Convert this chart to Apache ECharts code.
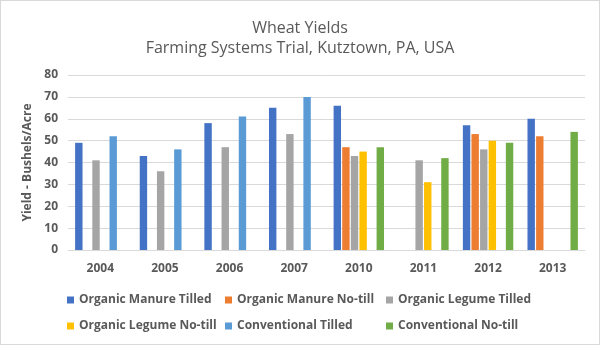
<!DOCTYPE html>
<html><head><meta charset="utf-8">
<script src="https://cdn.jsdelivr.net/npm/echarts@6/dist/echarts.min.js"></script>
<style>html,body{margin:0;padding:0;background:#fff}#c{width:598px;height:343px;border:1px solid #d9d9d9}</style>
</head><body><div id="c"></div>
<script>
const categories = ['2004','2005','2006','2007','2010','2011','2012','2013'];
const seriesNames = ['Organic Manure Tilled','Organic Manure No-till','Organic Legume Tilled','Organic Legume No-till','Conventional Tilled','Conventional No-till'];
const organicManureTilled = [49, 43, 58, 65, 66, null, 57, 60];
const organicManureNoTill = [null, null, null, null, 47, null, 53, 52];
const organicLegumeTilled = [41, 36, 47, 53, 43, 41, 46, null];
const organicLegumeNoTill = [null, null, null, null, 45, 31, 50, null];
const conventionalTilled = [52, 46, 61, 70, null, null, null, null];
const conventionalNoTill = [null, null, null, null, 47, 42, 49, 54];
const yTicks = [0, 10, 20, 30, 40, 50, 60, 70, 80];
const colors = ['#4472C4','#ED7D31','#A5A5A5','#FFC000','#5B9BD5','#70AD47'];
const allData = [organicManureTilled, organicManureNoTill, organicLegumeTilled, organicLegumeNoTill, conventionalTilled, conventionalNoTill];
const font = '"Open Sans", sans-serif';
const legendLeft = [66, 224, 385];
const legendTop = [293, 319];
const chart = echarts.init(document.getElementById('c'));
chart.setOption({
  animation: false,
  title: {
    text: 'Wheat Yields',
    subtext: 'Farming Systems Trial, Kutztown, PA, USA',
    left: 'center', top: 12, itemGap: 0,
    textStyle: { fontFamily: font, fontSize: 16, fontWeight: 'normal', color: '#595959', lineHeight: 20 },
    subtextStyle: { fontFamily: font, fontSize: 16, fontWeight: 'normal', color: '#595959', lineHeight: 21 }
  },
  legend: seriesNames.map((n, i) => ({
    data: [n], left: legendLeft[i % 3], top: legendTop[Math.floor(i / 3)],
    padding: 0, itemWidth: 7, itemHeight: 7, icon: 'rect',
    textStyle: { fontFamily: font, fontSize: 12, fontWeight: 'bold', color: '#595959' }
  })),
  grid: { left: 67, right: 14, top: 74, bottom: 94 },
  xAxis: {
    type: 'category', data: categories,
    axisLine: { lineStyle: { color: '#d9d9d9' } },
    axisTick: { show: false },
    axisLabel: { fontFamily: font, fontSize: 12, fontWeight: 'bold', color: '#595959', margin: 13 }
  },
  yAxis: {
    type: 'value', min: yTicks[0], max: yTicks[yTicks.length-1], interval: 10,
    name: 'Yield - Bushels/Acre', nameLocation: 'middle', nameGap: 33, nameRotate: 90,
    nameTextStyle: { fontFamily: font, fontSize: 12, fontWeight: 'bold', color: '#595959' },
    axisLine: { show: false }, axisTick: { show: false },
    splitLine: { lineStyle: { color: '#d9d9d9' } },
    axisLabel: { fontFamily: font, fontSize: 12, fontWeight: 'bold', color: '#595959', margin: 10 }
  },
  series: seriesNames.map((n, i) => ({
    name: n, type: 'bar', data: allData[i],
    itemStyle: { color: colors[i] },
    barGap: '16%', barCategoryGap: '22%'
  }))
});
</script></body></html>
